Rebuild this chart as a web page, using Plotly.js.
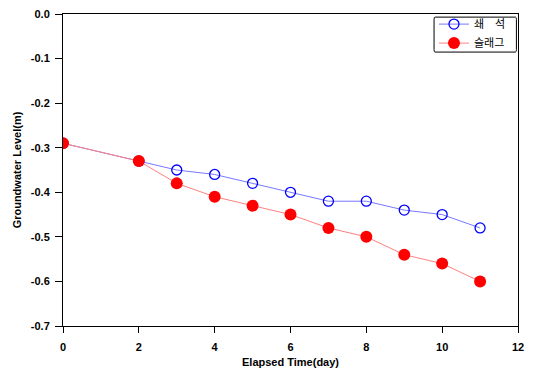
<!DOCTYPE html>
<html><head><meta charset="utf-8">
<script src="https://cdn.plot.ly/plotly-3.0.1.min.js"></script>
<style>body{margin:0;padding:0;background:#fff}#chart{width:534px;height:369px}</style>
</head><body><div id="chart"></div>
<script>
const days = [0, 2, 3, 4, 5, 6, 7, 8, 9, 10, 11];
const crushedStone = [-0.29, -0.33, -0.35, -0.36, -0.38, -0.40, -0.42, -0.42, -0.44, -0.45, -0.48];
const slag = [-0.29, -0.33, -0.38, -0.41, -0.43, -0.45, -0.48, -0.50, -0.54, -0.56, -0.60];
const seriesNames = ['쇄\u3000석', '슬래그'];
const xTicks = [0, 2, 4, 6, 8, 10, 12];
const yTicks = [0, -0.1, -0.2, -0.3, -0.4, -0.5, -0.6, -0.7];
const yTickText = ['0.0', '-0.1', '-0.2', '-0.3', '-0.4', '-0.5', '-0.6', '-0.7'];

const traces = [
  {x: days, y: crushedStone, name: seriesNames[0], mode: 'lines+markers',
   line: {color: '#7878ff', width: 1},
   marker: {symbol: 'circle-open', size: 10, color: '#0000ff', line: {width: 1.3, color: '#0000ff'}}},
  {x: days, y: slag, name: seriesNames[1], mode: 'lines+markers',
   line: {color: '#ff8080', width: 1},
   marker: {symbol: 'circle', size: 12, color: '#ff0000'}}
];

const tickFont = {family: 'Liberation Sans, Arial, sans-serif', size: 11, color: '#000', weight: 'bold'};
const layout = {
  width: 534, height: 369,
  margin: {l: 63, r: 16, t: 14, b: 43, autoexpand: false},
  paper_bgcolor: '#fff', plot_bgcolor: '#fff',
  showlegend: true,
  legend: {xref: 'container', yref: 'container', x: 0.8127, y: 0.974, xanchor: 'left', yanchor: 'top',
    bgcolor: 'rgba(0,0,0,0)', borderwidth: 0, tracegroupgap: 0,
    font: {family: 'Noto Sans CJK KR, sans-serif', size: 11, color: '#000'}},
  xaxis: {range: [0, 12], tickvals: xTicks, ticks: 'outside', ticklen: 6, tickcolor: '#000',
    ticklabelstandoff: 5,
    showline: true, linecolor: '#000', linewidth: 1, mirror: true, showgrid: false, zeroline: false,
    tickfont: tickFont,
    title: {text: 'Elapsed Time(day)', font: tickFont, standoff: 6}},
  yaxis: {range: [-0.7, 0], tickvals: yTicks, ticktext: yTickText, ticks: 'outside', ticklen: 7, tickcolor: '#000',
    ticklabelstandoff: 3,
    showline: true, linecolor: '#000', linewidth: 1, mirror: true, showgrid: false, zeroline: false,
    tickfont: tickFont,
    title: {text: 'Groundwater Level(m)', font: tickFont, standoff: 6}},
  shapes: [{type: 'path', xref: 'paper', yref: 'paper',
    path: 'M 0.8175 0.99 L 0.9945 0.99 Q 0.9965 0.99 0.9965 0.982 L 0.9965 0.886 Q 0.9965 0.878 0.9945 0.878 L 0.8175 0.878 Q 0.8155 0.878 0.8155 0.886 L 0.8155 0.982 Q 0.8155 0.99 0.8175 0.99 Z',
    line: {color: '#000', width: 1}}]
};
Plotly.newPlot('chart', traces, layout, {displayModeBar: false, staticPlot: true});
</script></body></html>
